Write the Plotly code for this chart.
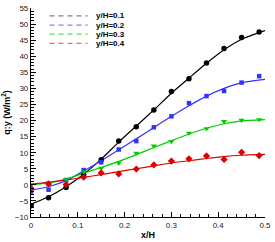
import plotly.graph_objects as go

# ---- data ----
x_pts = [0, 0.0375, 0.075, 0.1125, 0.15, 0.1875, 0.225, 0.2625, 0.3, 0.3375, 0.375, 0.4125, 0.45, 0.4875]
pts_01 = [-6.5, -4.0, -0.8, 3.1, 7.8, 13.6, 18.1, 23.3, 29.0, 33.0, 37.9, 42.4, 45.8, 47.5]
pts_02 = [-2.1, -1.5, 1.5, 4.6, 7.0, 11.0, 13.6, 17.9, 21.3, 25.4, 27.6, 29.2, 31.8, 33.8]
pts_03 = [-0.1, 0.7, 1.6, 4.0, 5.2, 6.8, 9.9, 12.1, 13.5, 16.1, 17.5, 19.7, 20.1, 20.3]
pts_04 = [-1.1, 0.3, 0.1, 2.4, 3.7, 3.4, 4.9, 6.2, 7.4, 8.1, 9.0, 7.9, 10.1, 9.1]

x_fit = [0, 0.0375, 0.075, 0.1125, 0.15, 0.1875, 0.225, 0.2625, 0.3, 0.3375, 0.375, 0.4125, 0.45, 0.5]
fit_01 = [-6.0, -3.7, -0.6, 3.3, 8.0, 13.3, 18.3, 23.3, 28.5, 33.2, 37.8, 42.0, 45.3, 48.0]
fit_02 = [-1.7, -0.6, 1.3, 4.3, 7.5, 10.9, 14.3, 17.8, 21.3, 24.6, 27.6, 30.0, 31.8, 32.8]
fit_03 = [0.0, 0.6, 1.8, 3.6, 5.4, 7.3, 9.4, 11.6, 13.7, 15.8, 17.6, 19.0, 19.9, 20.3]
fit_04 = [0.2, 0.8, 1.5, 2.3, 3.2, 4.1, 5.0, 5.9, 6.8, 7.5, 8.2, 8.8, 9.2, 9.5]

names = ["y/H=0.1", "y/H=0.2", "y/H=0.3", "y/H=0.4"]
x_ticks = [0, 0.1, 0.2, 0.3, 0.4, 0.5]
x_tick_text = ["0", "0.1", "0.2", "0.3", "0.4", "0.5"]
y_ticks = [-10, -5, 0, 5, 10, 15, 20, 25, 30, 35, 40, 45, 50, 55]

# ---- styles ----
line_colors = ["#000000", "#3333ff", "#00cc00", "#dd0000"]
legend_colors = ["#808080", "#8080ff", "#55dd55", "#ff6666"]
marker_symbols = ["circle", "square", "triangle-down", "diamond"]
marker_sizes = [5.5, 4.5, 5.5, 5.5]

fig = go.Figure()
all_pts = [pts_01, pts_02, pts_03, pts_04]
all_fit = [fit_01, fit_02, fit_03, fit_04]
for i in range(4):
    fig.add_trace(go.Scatter(x=x_fit, y=all_fit[i], mode="lines", line=dict(color=line_colors[i], width=1.2, shape="spline", smoothing=0.6),
                             showlegend=False, hoverinfo="skip"))
for i in range(4):
    fig.add_trace(go.Scatter(x=x_pts, y=all_pts[i], mode="markers", name=names[i],
                             marker=dict(symbol=marker_symbols[i], size=marker_sizes[i], color=line_colors[i], line=dict(width=0)),
                             showlegend=False))

# manual compact legend (paper coordinates)
leg_x0, leg_x1, leg_tx = 0.079, 0.242, 0.27
leg_rows = [0.962, 0.918, 0.875, 0.831]
for i in range(4):
    fig.add_shape(type="line", xref="paper", yref="paper", x0=leg_x0, x1=leg_x1, y0=leg_rows[i], y1=leg_rows[i],
                  line=dict(color=legend_colors[i], width=1.2, dash="5px,4px"))
    fig.add_annotation(xref="paper", yref="paper", x=leg_tx, y=leg_rows[i], text="<b>" + names[i] + "</b>",
                       showarrow=False, xanchor="left", yanchor="middle",
                       font=dict(family="Liberation Sans, Arial, sans-serif", size=8, color="#000000"))

axis_font = dict(family="Liberation Sans, Arial, sans-serif", size=8, color="#222222")
fig.update_layout(
    width=275, height=242,
    margin=dict(l=29, r=6, t=4, b=21),
    paper_bgcolor="white", plot_bgcolor="white",
    showlegend=False,
    xaxis=dict(range=[0, 0.5], tickvals=x_ticks, ticktext=x_tick_text, ticks="inside", ticklen=5, tickwidth=1,
               tickcolor="#000000", showline=True, linecolor="#000000", linewidth=1.2, showgrid=False, zeroline=False,
               tickfont=axis_font, ticklabeloverflow="allow",
               minor=dict(dtick=0.02, ticks="inside", ticklen=2.5, tickcolor="#000000", showgrid=False),
               title=dict(text="<b>x/H</b>", font=dict(family="Liberation Sans, Arial, sans-serif", size=9, color="#000000"), standoff=2)),
    yaxis=dict(range=[-10, 55], tickvals=y_ticks, ticks="inside", ticklen=5, tickwidth=1,
               tickcolor="#000000", showline=True, linecolor="#000000", linewidth=1.2, showgrid=False, zeroline=False,
               tickfont=axis_font, ticklabeloverflow="allow",
               minor=dict(dtick=1, ticks="inside", ticklen=2.5, tickcolor="#000000", showgrid=False),
               title=dict(text="<b>q:y (W/m<sup>2</sup>)</b>", font=dict(family="Liberation Sans, Arial, sans-serif", size=9, color="#000000"), standoff=4)),
)

fig.write_html("out.html", config={"displayModeBar": False},
               post_script="document.body.style.margin='0';document.body.style.overflow='hidden';")
